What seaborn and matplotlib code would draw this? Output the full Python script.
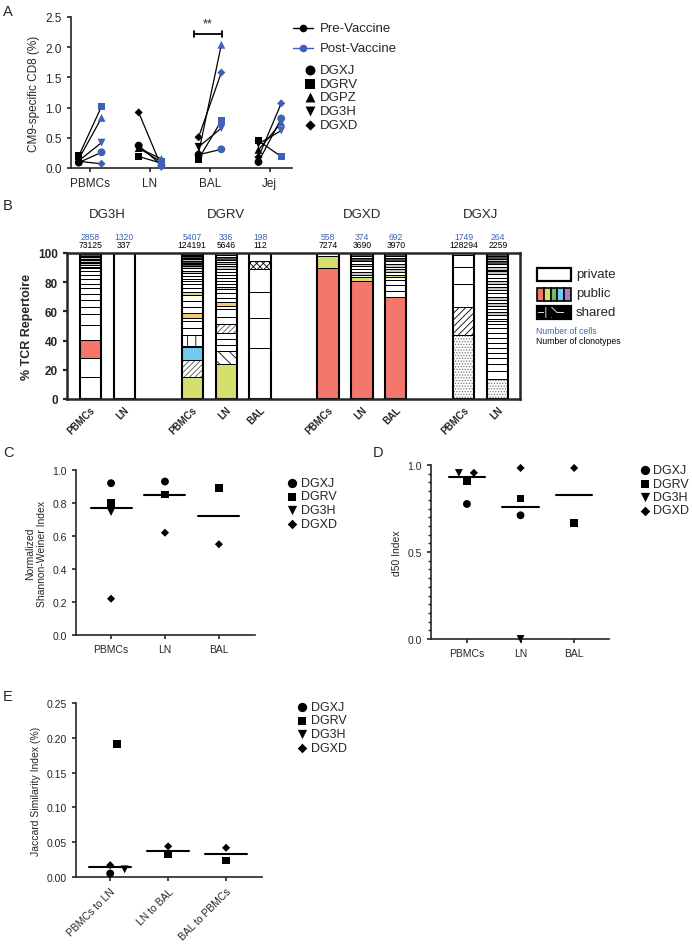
import numpy as np
import pandas as pd
import matplotlib
matplotlib.use("Agg")
import matplotlib.pyplot as plt
from matplotlib.ticker import MultipleLocator, FormatStrFormatter
import seaborn as sns

# ---------------- panel A: CM9-specific CD8 ----------------
tissues_a = ["PBMCs", "LN", "BAL", "Jej"]
donors_a = ["DGXJ", "DGRV", "DGPZ", "DG3H", "DGXD"]
# rows = donors, cols = tissues
pre_vaccine = [
    [0.09, 0.37, 0.22, 0.10],
    [0.20, 0.19, 0.15, 0.45],
    [0.15, 0.33, 0.25, 0.30],
    [0.12, 0.33, 0.35, 0.40],
    [0.11, 0.92, 0.51, 0.18],
]
post_vaccine = [
    [0.26, 0.05, 0.31, 0.82],
    [1.02, 0.08, 0.78, 0.19],
    [0.83, 0.15, 2.04, 0.75],
    [0.42, 0.10, 0.66, 0.62],
    [0.07, 0.02, 1.58, 1.07],
]

# ---------------- panel B: TCR repertoire ----------------
group_names = ["DG3H", "DGRV", "DGXD", "DGXJ"]
group_tissues = [["PBMCs", "LN"], ["PBMCs", "LN", "BAL"], ["PBMCs", "LN", "BAL"], ["PBMCs", "LN"]]
n_cells = [2858, 1320, 5407, 336, 198, 558, 374, 692, 1749, 264]
n_clonotypes = [73125, 337, 124191, 5646, 112, 7274, 3690, 3970, 128294, 2259]
# clone share (%) from bottom to top, and clone class code per segment
seg_heights = [
    [15.3, 13, 12.3, 10, 7.5, 5, 4.6, 4.1, 3.9, 3.4, 3, 3, 2.7, 1.6, 1,
     1.3, 1.2, 1.2, 1.1, 1.0, 1.0, 0.9, 0.9, 1.0],
    [100],
    [15, 12, 8.5, 1, 7, 5, 5, 2, 3.5, 4, 4, 4, 2.5, 2.5, 2.5, 2, 2, 2, 2,
     1.5, 1.5, 1.5, 1.2, 1.2, 1.2, 1, 1, 1.2, 1.1, 1.1],
    [24, 9, 4, 4, 4.5, 6, 5, 5, 2.5, 2.5, 3, 3, 3, 1.5, 2, 2, 2, 2, 2, 2, 2,
     1.5, 1.5, 1.5, 1.5, 1.5, 1.5],
    [35, 20.5, 18, 15.5, 5.7, 5.3],
    [89.5, 8.5, 2],
    [80.8, 2.5, 1.9, 1.9, 1.9, 1.8, 1.8, 1.8, 1.9, 1.9, 1.8],
    [69.6, 4.1, 4.1, 3.4, 2.3, 1.2, 2, 2, 2, 2, 2, 1.8, 1.7, 1.8],
    [43.8, 19, 15.7, 12.1, 8, 1.4],
    [13.7, 5.7, 4.6, 3.9, 3.6, 3.2, 3.4, 3.5, 3.6, 3.3, 3.0, 2.0, 1.5,
     2.2, 2.2, 2.1, 2.2, 2.2, 2.1, 2.2, 2.2, 2.1, 2.2, 2.2, 2.1, 2.2, 2.2, 2.1,
     0.8, 2, 2, 2, 1.9, 1.9, 1.9],
]
seg_kinds = [
    "ppRpppppppppppOpGpGKGpKp",
    "p",
    "YFBpVpppOpppYppppppGpGKpKGpKGK",
    "YSpppFpppOpppDppppppGpGpKpD",
    "ppppXp",
    "RYp",
    "RYpGppGpKpK",
    "RppppYpGpGpKpK",
    "DHpppp",
    "DpppppppppppDpGppGpGppGpGppGBGpKGKK",
]

# ---------------- panels C, D, E ----------------
idx_donors = ["DGXJ", "DGRV", "DG3H", "DGXD"]
tissues_cd = ["PBMCs", "LN", "BAL"]
shannon = [
    [0.92, 0.93, None],
    [0.80, 0.85, 0.89],
    [0.745, None, None],
    [0.22, 0.62, 0.55],
]
d50 = [
    [0.776, 0.711, None],
    [0.904, 0.808, 0.667],
    [0.954, 0.0, None],
    [0.955, 0.983, 0.983],
]
pairs_e = ["PBMCs to LN", "LN to BAL", "BAL to PBMCs"]
jaccard = [
    [0.005, None, None],
    [0.191, 0.032, 0.024],
    [0.011, None, None],
    [0.017, 0.044, 0.042],
]

# ---------------- styling ----------------
sns.set_theme(style="ticks")
plt.rcParams['font.family'] = ['Liberation Sans', 'DejaVu Sans']
plt.rcParams['hatch.linewidth'] = 0.6
plt.rcParams['axes.linewidth'] = 1.2
plt.rcParams['xtick.major.width'] = 1.2
plt.rcParams['ytick.major.width'] = 1.2
plt.rcParams['xtick.major.size'] = 3
plt.rcParams['ytick.major.size'] = 3

BLUE = "#3f62b5"
W, H = 692, 945
markers_all = {"DGXJ": "o", "DGRV": "s", "DGPZ": "^", "DG3H": "v", "DGXD": "D"}
msize = {"DGXJ": 32, "DGRV": 28, "DGPZ": 32, "DG3H": 32, "DGXD": 17}
kind_style = {
    "p": ("white", None, "black"),
    "R": ("#f4776c", None, "black"),
    "Y": ("#d5df6e", None, "black"),
    "O": ("#f8c96c", None, "black"),
    "B": ("#72c9ef", None, "black"),
    "G": ("#c4c4c4", None, "black"),
    "K": ("#4d4d4d", None, "black"),
    "F": ("white", "//////", "#555555"),
    "S": ("white", "\\\\\\", "black"),
    "H": ("white", "/////", "black"),
    "V": ("white", "||", "black"),
    "D": ("white", "......", "#777777"),
    "X": ("white", "xxxxx", "black"),
}

fig = plt.figure(figsize=(W / 100, H / 100), dpi=100)


def px_axes(left, top, right, bottom):
    return fig.add_axes([left / W, 1 - bottom / H, (right - left) / W, (bottom - top) / H])


# ---------------- A ----------------
axA = px_axes(71, 18, 292, 169)
rows = []
for di, donor in enumerate(donors_a):
    for ti, tissue in enumerate(tissues_a):
        rows.append(dict(donor=donor, time="Pre", x=ti - 0.19, value=pre_vaccine[di][ti], pair=f"{donor}-{tissue}"))
        rows.append(dict(donor=donor, time="Post", x=ti + 0.19, value=post_vaccine[di][ti], pair=f"{donor}-{tissue}"))
dfA = pd.DataFrame(rows)
sns.lineplot(data=dfA, x="x", y="value", units="pair", estimator=None, sort=False,
             color="black", lw=0.9, legend=False, ax=axA)
sns.scatterplot(data=dfA, x="x", y="value", hue="time", style="donor", size="donor",
                palette={"Pre": "black", "Post": BLUE},
                markers={d: markers_all[d] for d in donors_a},
                sizes={d: msize[d] for d in donors_a}, linewidth=0,
                legend=False, ax=axA, zorder=3, clip_on=False)
axA.set_xlim(-0.32, 3.37)
axA.set_ylim(0, 2.5)
axA.set_xticks(range(len(tissues_a)))
axA.set_xticklabels(tissues_a, fontsize=8.5)
axA.yaxis.set_major_locator(MultipleLocator(0.5))
axA.yaxis.set_major_formatter(FormatStrFormatter("%.1f"))
axA.tick_params(axis="y", labelsize=8.5)
axA.set_xlabel("")
axA.set_ylabel("CM9-specific CD8 (%)", fontsize=8.5)
sns.despine(ax=axA)
# significance bracket at BAL
axA.plot([1.73, 2.2], [2.22, 2.22], color="black", lw=1.3)
axA.plot([1.73, 1.73], [2.17, 2.27], color="black", lw=1.3)
axA.plot([2.2, 2.2], [2.17, 2.27], color="black", lw=1.3)
axA.text(1.965, 2.3, "**", ha="center", va="bottom", fontsize=9)

# ---------------- B ----------------
axB = px_axes(67, 254, 520, 400)
positions, bar_labels, group_centers = [], [], []
pos = 0
for g, tissues in enumerate(group_tissues):
    start = pos
    for t in tissues:
        positions.append(pos)
        bar_labels.append(t)
        pos += 1
    group_centers.append((start + pos - 1) / 2)
    pos += 1
bw = 0.62
for b, x in enumerate(positions):
    bottom = 0
    for h, k in zip(seg_heights[b], seg_kinds[b]):
        fc, hatch, hc = kind_style[k]
        axB.bar(x, h, bottom=bottom, width=bw, color=fc, hatch=hatch, edgecolor=hc, linewidth=0)
        axB.bar(x, h, bottom=bottom, width=bw, fill=False, edgecolor="black", linewidth=0.7)
        bottom += h
    axB.bar(x, bottom, width=bw, fill=False, edgecolor="black", linewidth=1.5)
    axB.text(x, 111.5, str(n_cells[b]), color=BLUE, fontsize=6.2, ha="center", va="center", clip_on=False)
    axB.text(x, 105.8, str(n_clonotypes[b]), color="black", fontsize=6.2, ha="center", va="center", clip_on=False)
for name, cx in zip(group_names, group_centers):
    axB.text(cx, 126.5, name, fontsize=9.5, ha="center", va="center", clip_on=False)
axB.set_xlim(-0.68, 12.65)
axB.set_ylim(0, 100)
axB.set_yticks([0, 20, 40, 60, 80, 100])
axB.set_yticklabels([0, 20, 40, 60, 80, 100], fontsize=8.5, fontweight="bold")
axB.set_xticks(positions)
axB.set_xticklabels(bar_labels, rotation=45, ha="right", rotation_mode="anchor",
                    fontsize=7, fontweight="bold")
axB.tick_params(axis="x", length=0, pad=4)
axB.tick_params(axis="y", width=1.6, length=3)
axB.set_ylabel("% TCR Repertoire", fontsize=9, fontweight="bold")
for sp in axB.spines.values():
    sp.set_linewidth(1.8)


# ---------------- C, D, E ----------------
def index_panel(ax, cats, vals, half, dodge):
    rows = []
    for di, donor in enumerate(idx_donors):
        for ci, cat in enumerate(cats):
            v = vals[di][ci]
            if v is None:
                continue
            rows.append(dict(donor=donor, cat=cat, x=ci + dodge.get((donor, ci), 0.0), value=v))
    df = pd.DataFrame(rows)
    sns.scatterplot(data=df, x="x", y="value", style="donor", size="donor",
                    markers={d: markers_all[d] for d in idx_donors},
                    sizes={d: msize[d] for d in idx_donors}, color="black",
                    linewidth=0, legend=False, ax=ax, zorder=3, clip_on=False)
    med = df.groupby("cat", sort=False)["value"].median()
    for ci, cat in enumerate(cats):
        ax.plot([ci - half, ci + half], [med[cat], med[cat]], color="black", lw=1.5)
    ax.set_xticks(range(len(cats)))
    ax.set_xlabel("")
    sns.despine(ax=ax)


axC = px_axes(76, 471, 255, 636)
index_panel(axC, tissues_cd, shannon, 0.38, {})
axC.set_xlim(-0.65, 2.67)
axC.set_ylim(0, 1.0)
axC.yaxis.set_major_locator(MultipleLocator(0.2))
axC.yaxis.set_major_formatter(FormatStrFormatter("%.1f"))
axC.set_xticklabels(tissues_cd, fontsize=7.5)
axC.tick_params(axis="y", labelsize=7.5)
axC.set_ylabel("Normalized\nShannon-Weiner Index", fontsize=7.5)

axD = px_axes(431, 466, 609, 640)
index_panel(axD, tissues_cd, d50, 0.34, {("DG3H", 0): -0.15, ("DGXD", 0): 0.13})
axD.set_xlim(-0.67, 2.65)
axD.set_ylim(0, 1.0)
axD.yaxis.set_major_locator(MultipleLocator(0.5))
axD.yaxis.set_minor_locator(MultipleLocator(0.05))
axD.yaxis.set_major_formatter(FormatStrFormatter("%.1f"))
axD.tick_params(axis="y", which="minor", length=2, width=1.0)
axD.set_xticklabels(tissues_cd, fontsize=7.5)
axD.tick_params(axis="y", labelsize=7.5)
axD.set_ylabel("d50 Index", fontsize=7.5)

axE = px_axes(76, 704, 262, 878)
index_panel(axE, pairs_e, jaccard, 0.36, {("DG3H", 0): 0.25, ("DGRV", 0): 0.12})
axE.set_xlim(-0.59, 2.62)
axE.set_ylim(0, 0.25)
axE.yaxis.set_major_locator(MultipleLocator(0.05))
axE.yaxis.set_major_formatter(FormatStrFormatter("%.2f"))
axE.set_xticklabels(pairs_e, rotation=45, ha="right", rotation_mode="anchor", fontsize=7.5)
axE.tick_params(axis="y", labelsize=7.5)
axE.set_ylabel("Jaccard Similarity Index (%)", fontsize=7.5)

# ---------------- overlay: panel letters and legends ----------------
ov = fig.add_axes([0, 0, 1, 1], zorder=10)
ov.set_xlim(0, W)
ov.set_ylim(H, 0)
ov.axis("off")
ov.patch.set_alpha(0)
for letter, (lx, ly) in {"A": (8, 12), "B": (8, 206), "C": (8, 453), "D": (378, 453), "E": (8, 697)}.items():
    ov.text(lx, ly, letter, fontsize=10.5, ha="center", va="center")

# A legend
for i, (lab, col) in enumerate([("Pre-Vaccine", "black"), ("Post-Vaccine", BLUE)]):
    yy = 29 + i * 20
    ov.plot([293, 313], [yy, yy], color=col, lw=1.0)
    ov.scatter([303], [yy], marker="o", s=30, color=col, linewidth=0)
    ov.text(320, yy, lab, fontsize=9.5, va="center")
for i, d in enumerate(donors_a):
    yy = 71 + i * 13.7
    ov.scatter([310], [yy], marker=markers_all[d], s=msize[d] * 1.6, color="black", linewidth=0)
    ov.text(320, yy, d, fontsize=9.5, va="center")


def idx_legend(x, y0):
    for i, d in enumerate(idx_donors):
        yy = y0 + i * 13.5
        ov.scatter([x], [yy], marker=markers_all[d], s=msize[d] * 1.4, color="black", linewidth=0)
        ov.text(x + 8.5, yy, d, fontsize=9, va="center")


idx_legend(292, 484)
idx_legend(645, 471)
idx_legend(302, 708)

# B legend
ov.add_patch(plt.Rectangle((537, 269), 34, 13, facecolor="white", edgecolor="black", lw=1.6))
ov.text(576, 275, "private", fontsize=9.5, va="center")
for i, c in enumerate(["#f4776c", "#d5df6e", "#6cbf5a", "#72c9ef", "#b07cc6"]):
    ov.add_patch(plt.Rectangle((537 + i * 6.8, 289), 6.8, 12.5, facecolor=c, edgecolor="black", lw=1.2))
ov.text(576, 294.5, "public", fontsize=9.5, va="center")
for i, h in enumerate(["++", "||", "\\\\\\", "--", "||"]):
    ov.add_patch(plt.Rectangle((537 + i * 6.8, 307), 6.8, 13, facecolor="black", edgecolor="white", hatch=h, lw=0))
ov.add_patch(plt.Rectangle((537, 307), 34, 13, fill=False, edgecolor="black", lw=1.6))
ov.text(576, 313, "shared", fontsize=9.5, va="center")
ov.text(536, 331, "Number of cells", fontsize=6.2, color=BLUE, va="center")
ov.text(536, 341, "Number of clonotypes", fontsize=6.2, color="black", va="center")

fig.savefig("out.png", dpi=100)
